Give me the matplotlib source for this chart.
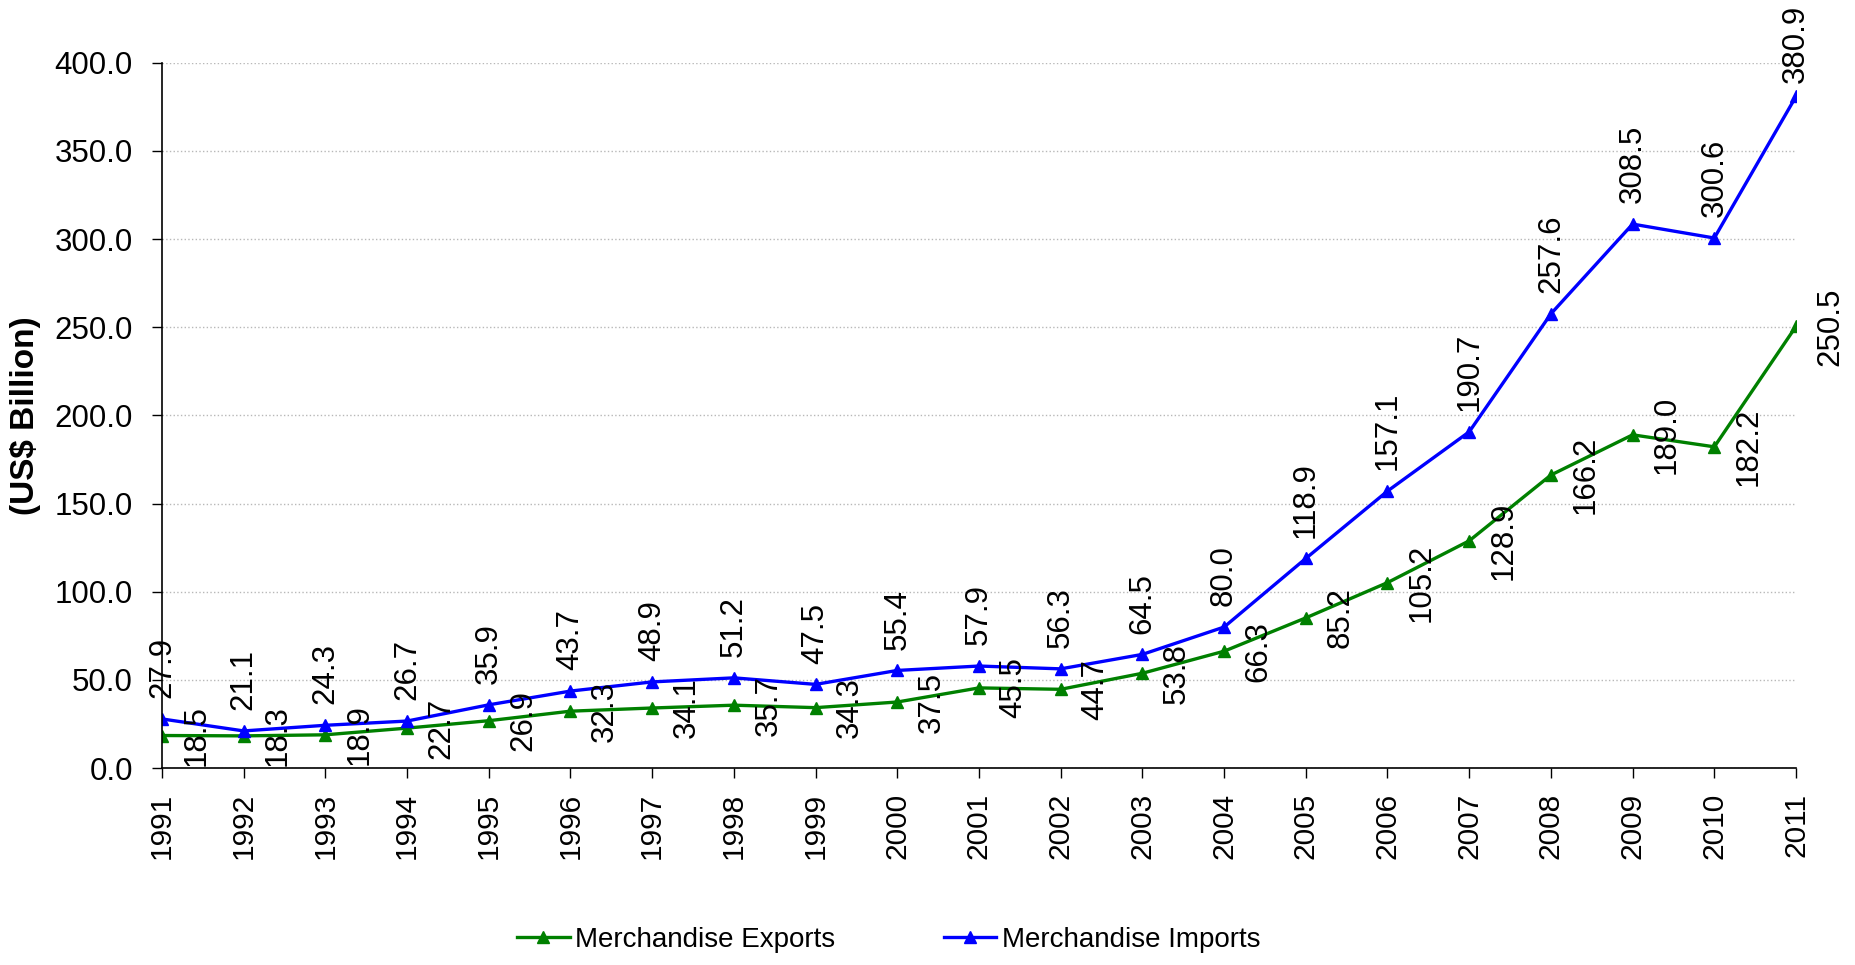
"""
Merchandise exports and imports, 1991-2011 (US$ Billion)
"""
import matplotlib
matplotlib.use('Agg')
import matplotlib.pyplot as plt
import numpy as np

plt.rcParams.update({
    'font.family': ['Liberation Sans', 'DejaVu Sans'],
    'axes.spines.top': False,
    'axes.spines.right': False,
})

# ---- data -------------------------------------------------------------
years = [str(y) for y in range(1991, 2012)]
exports = [18.5, 18.3, 18.9, 22.7, 26.9, 32.3, 34.1, 35.7, 34.3, 37.5, 45.5,
           44.7, 53.8, 66.3, 85.2, 105.2, 128.9, 166.2, 189.0, 182.2, 250.5]
imports = [27.9, 21.1, 24.3, 26.7, 35.9, 43.7, 48.9, 51.2, 47.5, 55.4, 57.9,
           56.3, 64.5, 80.0, 118.9, 157.1, 190.7, 257.6, 308.5, 300.6, 380.9]
y_ticks = [0, 50, 100, 150, 200, 250, 300, 350, 400]

GREEN = '#008000'
BLUE = '#0000FF'

fig = plt.figure(figsize=(18.55, 9.65), dpi=100)
ax = fig.add_axes([0.0873, 0.204, 0.8809, 0.731])

x = np.arange(len(years))
ax.plot(x, exports, color=GREEN, lw=2.4, marker='^', ms=8, label='Merchandise Exports')
ax.plot(x, imports, color=BLUE, lw=2.4, marker='^', ms=8, label='Merchandise Imports')

# data labels: imports above the point, exports to the right
for xi, v in zip(x, imports):
    off = 15 if v < 350 else 10   # keep the top label inside the figure
    ax.annotate(f'{v:.1f}', xy=(xi, v), xytext=(0, off), textcoords='offset points',
                rotation=90, ha='center', va='bottom', fontsize=22.5)
for xi, v in zip(x, exports):
    ax.annotate(f'{v:.1f}', xy=(xi, v), xytext=(14, 0), textcoords='offset points',
                rotation=90, ha='left', va='center', fontsize=22.5)

ax.set_xlim(0, len(years) - 1)
ax.set_ylim(0, 400)
ax.set_xticks(x)
ax.set_xticklabels(years, rotation=90, fontsize=21.5)
ax.set_yticks(y_ticks)
ax.set_yticklabels([f'{t:.1f}' for t in y_ticks], fontsize=22.5)
ax.tick_params(axis='y', direction='out', length=7, width=1, pad=14)
ax.tick_params(axis='x', direction='out', length=7, width=1, pad=11)
for s in ('left', 'bottom'):
    ax.spines[s].set_linewidth(1.2)

ax.yaxis.grid(True, linestyle=':', color='#b8b8b8', linewidth=1)
ax.set_axisbelow(True)
ax.set_ylabel('(US$ Billion)', fontsize=24, fontweight='bold')
ax.yaxis.set_label_coords(-0.074, 0.5)

fig.legend(loc='center', bbox_to_anchor=(0.479, 0.026), ncol=2, frameon=False,
           fontsize=20, handlelength=1.9, handletextpad=0.2, columnspacing=3.9)

fig.savefig('out.png', dpi=100, facecolor='white')
